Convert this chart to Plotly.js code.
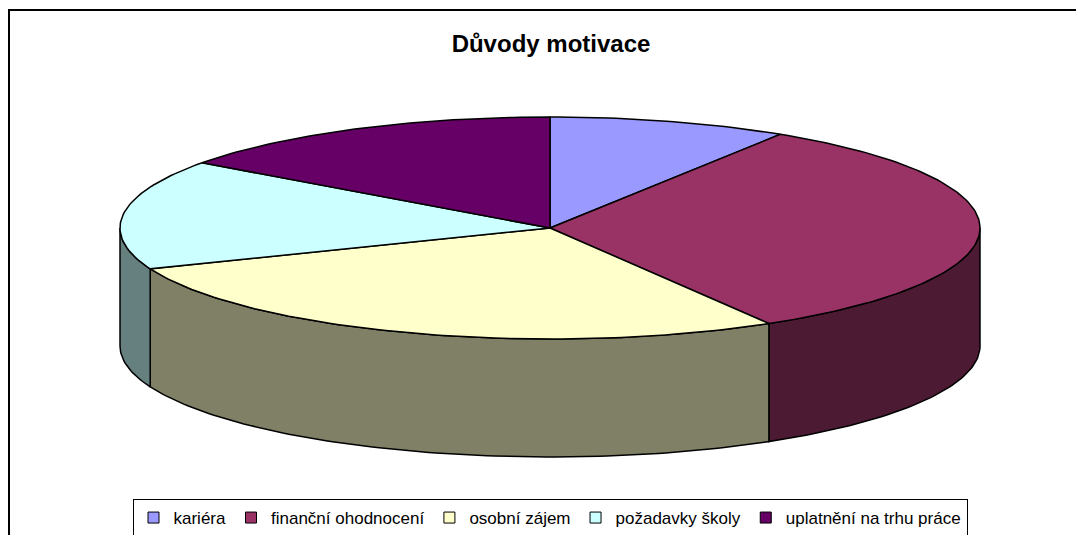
<!DOCTYPE html>
<html>
<head>
<meta charset="utf-8">
<script src="https://cdn.plot.ly/plotly-3.0.1.min.js"></script>
<style>html,body{margin:0;padding:0;background:#fff;}#chart{width:1076px;height:535px;}</style>
</head>
<body>
<div id="chart"></div>
<script>
// ---- data ----
const categories = ["kariéra", "finanční ohodnocení", "osobní zájem", "požadavky školy", "uplatnění na trhu práce"];
const values = [9, 32.5, 27.5, 16, 15];
const topColors = ["#9999FF", "#993366", "#FFFFCC", "#CCFFFF", "#660066"];
const sideColors = ["#4D4D80", "#4D1A33", "#808066", "#668080", "#330033"];
const chartTitle = "Důvody motivace";

// ---- 3D pie geometry (pixel-mapped axes) ----
const W = 1076, H = 535;
const cx = 550, cy = 228, rx = 430, ry = 111, depth = 118;
const total = values.reduce((a, b) => a + b, 0);
const rad = d => d * Math.PI / 180;
function pt(theta, dy) {
  return [cx + rx * Math.sin(rad(theta)), cy - ry * Math.cos(rad(theta)) + (dy || 0)];
}
function arc(a0, a1, dy) {
  const n = Math.max(2, Math.ceil(Math.abs(a1 - a0) / 1));
  const xs = [], ys = [];
  for (let i = 0; i <= n; i++) {
    const p = pt(a0 + (a1 - a0) * i / n, dy);
    xs.push(p[0]); ys.push(p[1]);
  }
  return [xs, ys];
}

const angles = [];
let acc = 0;
values.forEach(v => { const a0 = acc / total * 360; acc += v; angles.push([a0, acc / total * 360]); });

const traces = [];
// side walls (visible front half: 90..270)
angles.forEach(([a0, a1], i) => {
  const s = Math.max(a0, 90), e = Math.min(a1, 270);
  if (e <= s) return;
  const [tx, ty] = arc(s, e, 0);
  const [bx, by] = arc(e, s, depth);
  traces.push({
    type: "scatter", mode: "lines", x: tx.concat(bx, [tx[0]]), y: ty.concat(by, [ty[0]]),
    fill: "toself", fillcolor: sideColors[i], line: {color: "#000", width: 1.5},
    showlegend: false, hoverinfo: "skip"
  });
});
// top faces
angles.forEach(([a0, a1], i) => {
  const [ax, ay] = arc(a0, a1, 0);
  traces.push({
    type: "scatter", mode: "lines", x: [cx].concat(ax, [cx]), y: [cy].concat(ay, [cy]),
    fill: "toself", fillcolor: topColors[i], line: {color: "#000", width: 1.5},
    showlegend: false, hoverinfo: "skip"
  });
});
// legend entries
categories.forEach((c, i) => {
  traces.push({
    type: "scatter", mode: "markers", x: [null], y: [null], name: c,
    marker: {symbol: "square", size: 11, color: topColors[i], line: {color: "#000", width: 1}},
    showlegend: true, hoverinfo: "skip"
  });
});

const layout = {
  width: W, height: H,
  margin: {l: 0, r: 0, t: 0, b: 0, autoexpand: false},
  paper_bgcolor: "#fff", plot_bgcolor: "#fff",
  xaxis: {range: [0, W], visible: false, fixedrange: true},
  yaxis: {range: [H, 0], visible: false, fixedrange: true},
  title: {
    text: chartTitle, x: 551 / W, xanchor: "center", y: 1 - 44 / H, yanchor: "middle",
    font: {family: "Liberation Sans, Arial, sans-serif", size: 24, color: "#000", weight: "bold"}
  },
  showlegend: true,
  legend: {
    orientation: "h", x: 550 / W, xanchor: "center", y: 1 - 499 / H, yanchor: "top",
    bordercolor: "#000", borderwidth: 1, bgcolor: "#fff",
    font: {family: "Liberation Sans, Arial, sans-serif", size: 17, color: "#000"},
    itemwidth: 30, tracegroupgap: 0
  },
  shapes: [
    {type: "line", xref: "x", yref: "y", x0: 8, y0: 10, x1: W + 20, y1: 10, line: {color: "#000", width: 2}, layer: "above"},
    {type: "line", xref: "x", yref: "y", x0: 9, y0: 9, x1: 9, y1: H + 20, line: {color: "#000", width: 2}, layer: "above"}
  ]
};

Plotly.newPlot("chart", traces, layout, {staticPlot: true, displayModeBar: false});
</script>
</body>
</html>
